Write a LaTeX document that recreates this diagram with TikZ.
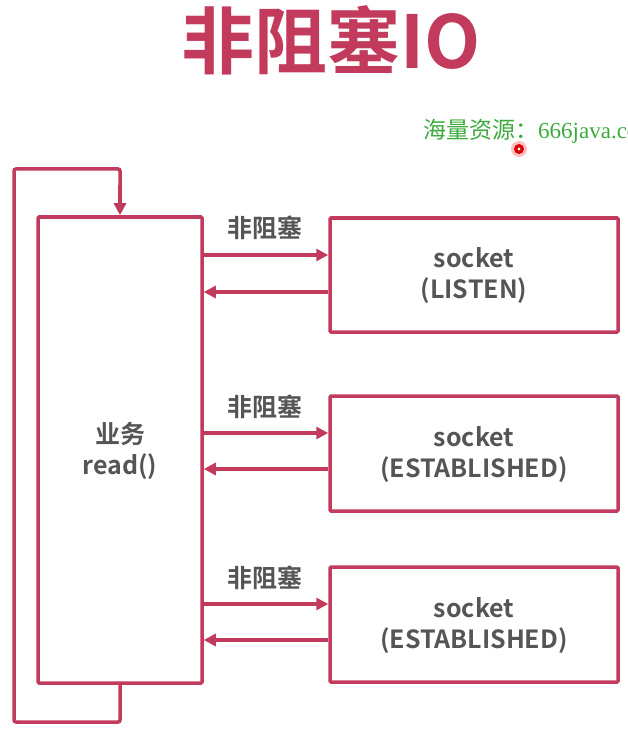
\documentclass[tikz,border=0pt]{standalone}
\usepackage{fontspec}
\setmainfont{Noto Sans CJK SC}
\newfontfamily\cjkb{Noto Sans CJK SC Bold}
\newfontfamily\cjkr{Noto Sans CJK SC}
\newfontfamily\latserif{Liberation Serif}
\usetikzlibrary{arrows.meta}
\definecolor{rose}{HTML}{C23B5C}
\definecolor{txtgray}{HTML}{555555}
\definecolor{wmgreen}{HTML}{3DAA3D}
\tikzset{
  box/.style={draw=rose,line width=3.5pt,rounded corners=1pt,inner sep=0pt},
  conn/.style={draw=rose,line width=3.5pt,-{Triangle[length=12pt,width=12pt]}},
  loopline/.style={draw=rose,line width=3.5pt,rounded corners=2pt},
  lbl/.style={text=txtgray,font=\cjkb\fontsize{25}{31}\selectfont,align=center},
}
\begin{document}
\begin{tikzpicture}[x=1pt,y=-1pt]
\useasboundingbox (0,0) rectangle (628,735);
\clip (0,0) rectangle (628,735);
% title
\node[text=rose,font=\cjkb\fontsize{73}{75}\selectfont] (title) at (331,40) {非阻塞IO};
% watermark
\node[anchor=west,text=wmgreen,font=\cjkr\fontsize{23}{26}\selectfont,inner sep=0pt] (wm) at (423,131) {海量资源：\latserif 666java.com};
\fill[red!25] (519,149) circle (8pt);
\fill[red!85!black] (519,149) circle (5pt);
\fill[white] (519,149) circle (1.6pt);
% left box
\node[box,minimum width=164pt,minimum height=466pt] (biz) at (120,450) {};
\node[lbl] (biztxt) at (120,451) {业务\\read()};
% right boxes
\node[box,minimum width=288pt,minimum height=114pt] (s1) at (474,275) {};
\node[lbl] (s1t) at (474,276) {socket\\(LISTEN)};
\node[box,minimum width=288pt,minimum height=115pt] (s2) at (474,453.5) {};
\node[lbl] (s2t) at (474,454.5) {socket\\(ESTABLISHED)};
\node[box,minimum width=288pt,minimum height=115pt] (s3) at (474,624.5) {};
\node[lbl] (s3t) at (474,625.5) {socket\\(ESTABLISHED)};
% labels
\node[lbl] (l1) at (265,228) {非阻塞};
\node[lbl] (l2) at (265,407) {非阻塞};
\node[lbl] (l3) at (265,578) {非阻塞};
% arrows
\draw[conn] (biz.east |- 0,255) -- (s1.west |- 0,255);
\draw[conn] (s1.west |- 0,292) -- (biz.east |- 0,292);
\draw[conn] (biz.east |- 0,433) -- (s2.west |- 0,433);
\draw[conn] (s2.west |- 0,469) -- (biz.east |- 0,469);
\draw[conn] (biz.east |- 0,604) -- (s3.west |- 0,604);
\draw[conn] (s3.west |- 0,640) -- (biz.east |- 0,640);
% loop
\coordinate (lb) at (14,722);
\coordinate (lt) at (14,169);
\draw[loopline] (biz.south) -- (biz.south |- lb) -- (lb) -- (lt) -- (biz.north |- lt) -- (120,190);
\draw[conn] (120,185) -- (biz.north);
\end{tikzpicture}
\end{document}
